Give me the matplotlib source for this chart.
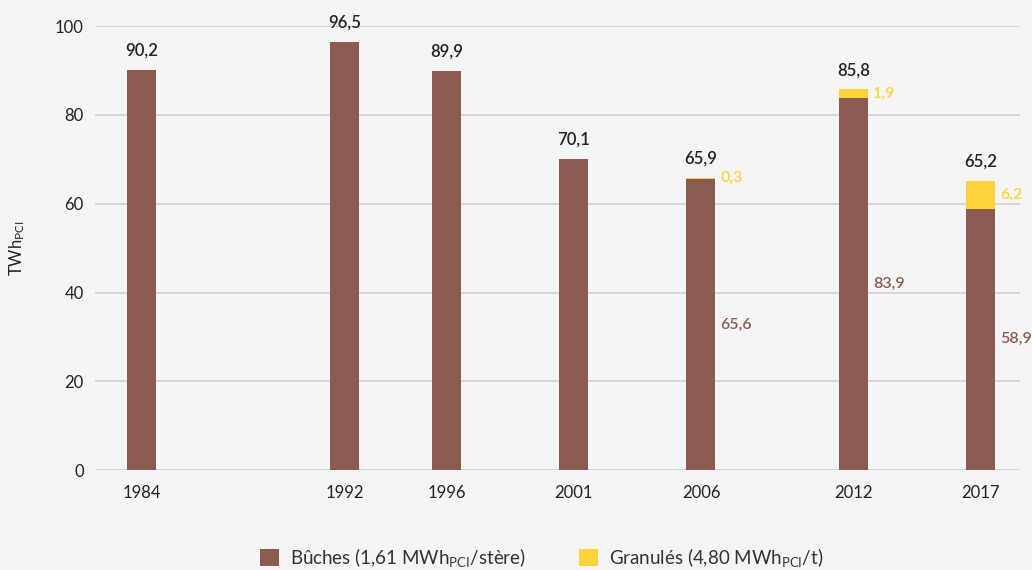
import matplotlib
matplotlib.use("Agg")
import matplotlib.pyplot as plt
import numpy as np

plt.rcParams['font.family'] = ['Lato', 'DejaVu Sans']
plt.rcParams['mathtext.fontset'] = 'custom'
plt.rcParams['mathtext.rm'] = 'Lato'
plt.rcParams['mathtext.it'] = 'Lato'

years = [1984, 1992, 1996, 2001, 2006, 2012, 2017]
buches = [90.2, 96.5, 89.9, 70.1, 65.6, 83.9, 58.9]
granules = [0.0, 0.0, 0.0, 0.0, 0.3, 1.9, 6.2]
totals = [90.2, 96.5, 89.9, 70.1, 65.9, 85.8, 65.2]
y_ticks = [0, 20, 40, 60, 80, 100]

BROWN = "#8b5a50"
YELLOW = "#fed339"
BG = "#f5f5f5"


def fr(v):
    return f"{v:.1f}".replace(".", ",")


fig = plt.figure(figsize=(10.32, 5.70), dpi=100, facecolor=BG)
ax = fig.add_axes([0.092, 0.1754, 0.896, 0.7786], facecolor=BG)

width = 1.14
ax.bar(years, buches, width=width, color=BROWN, zorder=3,
       label="Bûches (1,61 MWh$_{\\mathrm{PCI}}$/stère)")
ax.bar(years, granules, width=width, bottom=buches, color=YELLOW, zorder=3,
       label="Granulés (4,80 MWh$_{\\mathrm{PCI}}$/t)")

for x, b, g, t in zip(years, buches, granules, totals):
    ax.annotate(fr(t), (x, t), xytext=(0, 8), textcoords="offset points",
                ha="center", va="bottom", fontsize=12, fontweight="semibold",
                color="#222222")
    if g > 0:
        ax.annotate(fr(g), (x + width / 2, b + g / 2), xytext=(3.5, 0),
                    textcoords="offset points", ha="left", va="center",
                    fontsize=11.5, fontweight="semibold", color=YELLOW)
        ax.annotate(fr(b), (x + width / 2, b / 2), xytext=(3.5, 0),
                    textcoords="offset points", ha="left", va="center",
                    fontsize=11.5, fontweight="semibold", color=BROWN)

ax.set_xlim(1982.17, 2018.53)
ax.set_ylim(0, 100)
ax.set_xticks(years)
ax.set_xticklabels([str(y) for y in years])
ax.set_yticks(y_ticks)
ax.tick_params(length=0, labelsize=12, colors="#222222")
ax.tick_params(axis="x", pad=11)
ax.tick_params(axis="y", pad=8)
ax.yaxis.grid(True, color="#d2d2d2", linewidth=1.2, zorder=0)
ax.set_axisbelow(True)
for s in ax.spines.values():
    s.set_visible(False)
ax.set_ylabel("TWh$_{\\mathrm{PCI}}$", fontsize=12, color="#222222", labelpad=20)

fig.legend(loc="center", bbox_to_anchor=(0.525, 0.022), ncol=2, frameon=False,
           fontsize=13.5, handlelength=1.0, handleheight=1.0, columnspacing=2.8,
           handletextpad=0.6, labelcolor="#333333")

fig.savefig("out.png", dpi=100, facecolor=BG)
